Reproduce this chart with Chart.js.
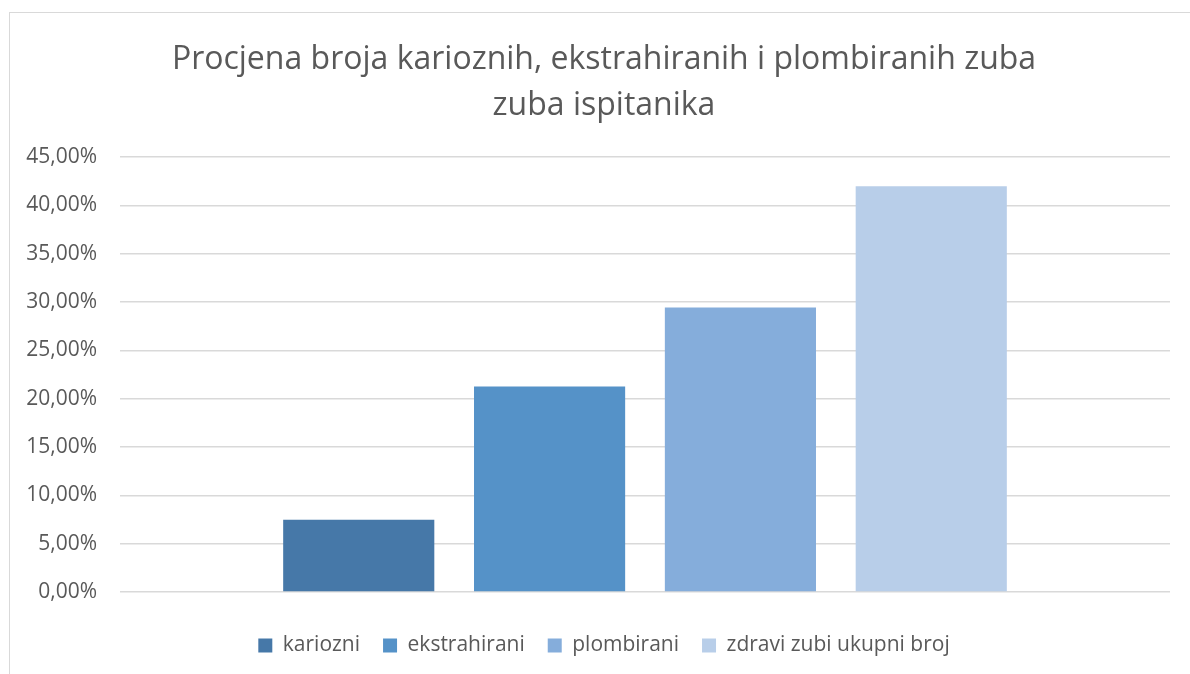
<!DOCTYPE html>
<html>
<head>
    <title>Procjena broja zuba</title>
    <script src="https://cdn.jsdelivr.net/npm/chart.js"></script>
    <style>
        body { margin: 0; background: #fff; }
        #frame { position: absolute; left: 9px; top: 12px; width: 1200px; height: 700px; border: 1px solid #d9d9d9; }
        #wrap { position: absolute; left: 0; top: 0; width: 1190px; height: 674px; }
    </style>
</head>
<body>
    <div id="frame"></div>
    <div id="wrap">
        <canvas id="barChart"></canvas>
    </div>

    <script>
        var seriesNames = ['kariozni', 'ekstrahirani', 'plombirani', 'zdravi zubi ukupni broj'];
        var seriesValues = [7.47, 21.26, 29.45, 42.0];
        var seriesColors = ['#4678a8', '#5592c8', '#85addb', '#b8cee9'];
        var categories = [''];

        var datasets = seriesNames.map(function (name, i) {
            return {
                label: name,
                data: [seriesValues[i]],
                backgroundColor: seriesColors[i],
                categoryPercentage: 0.727,
                barPercentage: 0.792
            };
        });

        var ctx = document.getElementById('barChart').getContext('2d');
        var myChart = new Chart(ctx, {
            type: 'bar',
            data: {
                labels: categories,
                datasets: datasets
            },
            options: {
                responsive: true,
                maintainAspectRatio: false,
                animation: false,
                layout: { padding: { left: 18, right: 0, top: 0, bottom: 8 } },
                plugins: {
                    title: {
                        display: true,
                        text: ['Procjena broja karioznih, ekstrahiranih i plombiranih zuba', 'zuba ispitanika'],
                        color: '#595959',
                        font: { family: 'Open Sans', size: 32, weight: 'normal', lineHeight: 1.44 },
                        padding: { top: 37, bottom: 28 }
                    },
                    legend: {
                        position: 'bottom',
                        labels: {
                            color: '#595959',
                            font: { family: 'Open Sans', size: 21 },
                            boxWidth: 14,
                            boxHeight: 14,
                            padding: 23
                        }
                    },
                    tooltip: { enabled: false }
                },
                scales: {
                    x: {
                        ticks: { display: false },
                        grid: { display: false },
                        border: { display: false },
                        afterFit: function (scale) { scale.height = 20; }
                    },
                    y: {
                        min: 0,
                        max: 45,
                        ticks: {
                            stepSize: 5,
                            color: '#595959',
                            font: { family: 'Open Sans', size: 21 },
                            padding: 23,
                            callback: function (v) { return v.toFixed(2).replace('.', ',') + '%'; }
                        },
                        grid: { color: '#d9d9d9', lineWidth: 1.5, drawTicks: false },
                        border: { display: false },
                        afterFit: function (scale) { scale.width = 102; }
                    },
                    // empty right axis, only keeps the plot 20px from the right edge
                    yRight: {
                        position: 'right',
                        ticks: { display: false },
                        grid: { display: false },
                        border: { display: false },
                        afterFit: function (scale) { scale.width = 20; }
                    }
                }
            }
        });
    </script>
</body>
</html>
